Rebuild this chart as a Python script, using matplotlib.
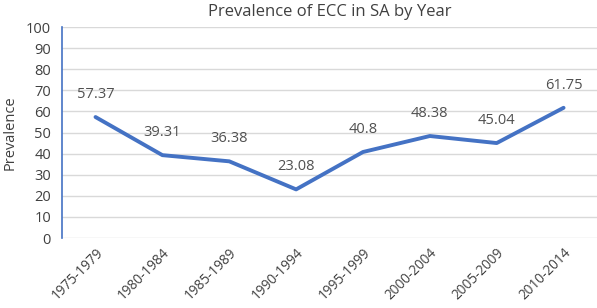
import matplotlib
matplotlib.use('Agg')
import matplotlib.pyplot as plt
import numpy as np

plt.rcParams['font.family'] = ['Open Sans', 'DejaVu Sans']

# data
periods = ['1975-1979', '1980-1984', '1985-1989', '1990-1994',
           '1995-1999', '2000-2004', '2005-2009', '2010-2014']
prevalence = [57.37, 39.31, 36.38, 23.08, 40.8, 48.38, 45.04, 61.75]
yticks = list(range(0, 101, 10))

fig = plt.figure(figsize=(5.97, 3.08), dpi=100)
ax = fig.add_axes([0.104, 0.227, 0.896, 0.685])

x = np.arange(len(periods))
ax.plot(x, prevalence, color='#4472C4', linewidth=2.8, solid_capstyle='round', zorder=3)

# value labels above points
for xi, v in zip(x, prevalence):
    ax.annotate('{}'.format(v), (xi, v), xytext=(0, 11), textcoords='offset points',
                ha='center', va='bottom', fontsize=10.5, color='#505050')

ax.set_xlim(-0.5, len(periods) - 0.5)
ax.set_ylim(0, 100)
ax.set_yticks(yticks)
ax.set_xticks(x)
ax.set_xticklabels(periods, rotation=45, ha='right', rotation_mode='anchor')
ax.tick_params(axis='both', length=0, labelsize=10.5, labelcolor='#404040')
ax.tick_params(axis='x', pad=5, labelsize=9.8)
ax.tick_params(axis='y', pad=8)

ax.grid(axis='y', color='#d9d9d9', linewidth=1)
ax.set_axisbelow(True)
for s in ['top', 'right', 'bottom']:
    ax.spines[s].set_visible(False)
ax.spines['left'].set_color('#4472C4')
ax.spines['left'].set_linewidth(1.2)

ax.set_ylabel('Prevalence', fontsize=10.5, color='#404040', labelpad=6)
ax.set_title('Prevalence of ECC in SA by Year', fontsize=12, color='#404040', pad=8)

fig.savefig('out.png', dpi=100)
